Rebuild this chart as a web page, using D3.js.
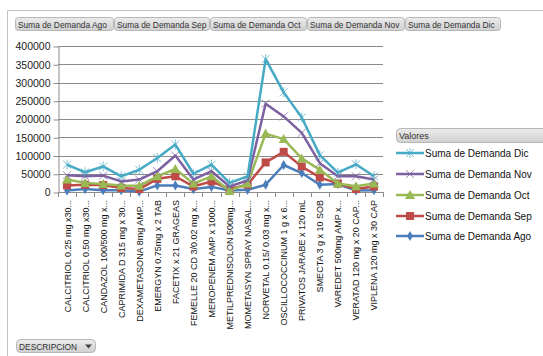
<!DOCTYPE html>
<html>
<head>
<meta charset="utf-8">
<script src="https://cdn.jsdelivr.net/npm/d3@7/dist/d3.min.js"></script>
<style>
  body { margin: 0; background: #fff; }
  text { font-family: "Liberation Sans", Arial, sans-serif; }
</style>
</head>
<body>
<script>
const width = 543;
const height = 356;

// categories (truncated as in the pivot chart)
const categories = [
  "CALCITRIOL 0.25 mg x30...",
  "CALCITRIOL 0.50 mg x30...",
  "CANDAZOL 100/500 mg x...",
  "CAPRIMIDA D 315 mg x 30...",
  "DEXAMETASONA 8mg AMP...",
  "EMERGYN 0.75mg x 2 TAB",
  "FACETIX x 21 GRAGEAS",
  "FEMELLE 20 CD 3/0.02 mg x...",
  "MEROPENEM AMP x 1000...",
  "METILPREDNISOLON 500mg...",
  "MOMETASYN SPRAY NASAL...",
  "NORVETAL 0.15/ 0.03 mg x...",
  "OSCILLOCOCCINUM 1 g x 6...",
  "PRIVATOS JARABE x 120 mL",
  "SMECTA 3 g x 10 SOB",
  "VAREDET 500mg AMP x...",
  "VERATAD 120 mg x 20 CAP...",
  "VIPLENA 120 mg x 30 CAP"
];

const demandaAgo = [4000, 8000, 5000, 5000, 1000, 18000, 18000, 8000, 14000, 4000, 6000, 20000, 74000, 52000, 20000, 22000, 4000, 5000];
const demandaSep = [18000, 20000, 19000, 11000, 8000, 36000, 43000, 15000, 29000, 8000, 20000, 81000, 110000, 70000, 40000, 23000, 8000, 15000];
const demandaOct = [34000, 25000, 22000, 18000, 17000, 43000, 63000, 23000, 43000, 3000, 23000, 160000, 145000, 92000, 61000, 23000, 16000, 23000];
const demandaNov = [46000, 43000, 45000, 29000, 34000, 57000, 100000, 34000, 57000, 15000, 32000, 242000, 207000, 162000, 79000, 43000, 43000, 34000];
const demandaDic = [75000, 54000, 70000, 43000, 61000, 93000, 130000, 50000, 75000, 25000, 43000, 364000, 273000, 204000, 101000, 53000, 76000, 43000];

const seriesNames = ["Suma de Demanda Ago", "Suma de Demanda Sep", "Suma de Demanda Oct", "Suma de Demanda Nov", "Suma de Demanda Dic"];
const yTicks = [0, 50000, 100000, 150000, 200000, 250000, 300000, 350000, 400000];

const series = [
  {name: seriesNames[0], values: demandaAgo, color: "#4a7ebb", marker: "diamond"},
  {name: seriesNames[1], values: demandaSep, color: "#be4b48", marker: "square"},
  {name: seriesNames[2], values: demandaOct, color: "#98b954", marker: "triangle"},
  {name: seriesNames[3], values: demandaNov, color: "#7d60a0", marker: "x"},
  {name: seriesNames[4], values: demandaDic, color: "#46aac5", marker: "star"}
];

const svg = d3.select('body')
  .append('svg')
  .attr('width', width)
  .attr('height', height);

// outer frame of the pivot chart
svg.append('path')
  .attr('d', 'M7.5,' + height + ' V10.5 H' + width)
  .attr('fill', 'none')
  .attr('stroke', '#c4c4c4');

// field buttons on top
const btnGrad = svg.append('defs').append('linearGradient')
  .attr('id', 'btn').attr('x1', 0).attr('y1', 0).attr('x2', 0).attr('y2', 1);
btnGrad.append('stop').attr('offset', 0).attr('stop-color', '#ececec');
btnGrad.append('stop').attr('offset', 1).attr('stop-color', '#d0d0d0');

const buttonX = [15, 114, 210, 307, 405];
const buttonW = [98, 95, 96, 97, 95];
seriesNames.forEach((n, i) => {
  svg.append('rect')
    .attr('x', buttonX[i] + 0.5).attr('y', 17.5)
    .attr('width', buttonW[i]).attr('height', 13)
    .attr('rx', 3)
    .attr('fill', 'url(#btn)')
    .attr('stroke', '#b8b8b8');
  svg.append('text')
    .attr('x', buttonX[i] + 3).attr('y', 27.5)
    .attr('font-size', 8.4)
    .attr('fill', '#333')
    .text(n);
});

// scales
const x = d3.scaleBand().domain(categories).range([58, 383]).padding(0);
const cx = d => x(d) + x.bandwidth() / 2;
const y = d3.scaleLinear().domain([0, 400000]).range([192, 46]);

// gridlines
svg.append('g')
  .selectAll('line')
  .data(yTicks.slice(1))
  .enter()
  .append('line')
  .attr('x1', 58).attr('x2', 383)
  .attr('y1', d => Math.round(y(d)) + 0.5)
  .attr('y2', d => Math.round(y(d)) + 0.5)
  .attr('stroke', '#8c8c8c');

// y axis
const yAxis = svg.append('g')
  .attr('transform', 'translate(58.5,0.5)')
  .call(d3.axisLeft(y).tickValues(yTicks).tickSize(5).tickSizeOuter(0).tickFormat(d3.format('d')));
yAxis.select('.domain').attr('stroke', '#8c8c8c');
yAxis.selectAll('.tick line').attr('stroke', '#8c8c8c');
yAxis.selectAll('.tick text')
  .attr('font-family', '"Liberation Sans", Arial, sans-serif')
  .attr('font-size', 10.5)
  .attr('fill', '#222')
  .attr('x', -8);

// x axis line with ticks at category boundaries
svg.append('line')
  .attr('x1', 58).attr('x2', 383)
  .attr('y1', 192.5).attr('y2', 192.5)
  .attr('stroke', '#8c8c8c');
svg.append('g')
  .selectAll('line')
  .data(categories.concat(['end']))
  .enter()
  .append('line')
  .attr('x1', (d, i) => Math.round(58 + i * x.bandwidth()) + 0.5)
  .attr('x2', (d, i) => Math.round(58 + i * x.bandwidth()) + 0.5)
  .attr('y1', 192).attr('y2', 197)
  .attr('stroke', '#8c8c8c');

// category labels, rotated
svg.append('g')
  .selectAll('text')
  .data(categories)
  .enter()
  .append('text')
  .attr('transform', d => 'translate(' + (cx(d) + 3.5) + ',200) rotate(-90)')
  .attr('text-anchor', 'end')
  .attr('font-size', 9)
  .attr('fill', '#111')
  .text(d => d);

// markers
function drawMarker(g, type, color, px, py) {
  if (type === 'diamond') {
    g.append('path')
      .attr('d', d3.symbol().type(d3.symbolDiamond).size(30)())
      .attr('transform', 'translate(' + px + ',' + py + ')')
      .attr('fill', color);
  } else if (type === 'square') {
    g.append('rect')
      .attr('x', px - 4).attr('y', py - 4)
      .attr('width', 8).attr('height', 8)
      .attr('fill', color);
  } else if (type === 'triangle') {
    g.append('path')
      .attr('d', 'M' + px + ',' + (py - 5) + 'L' + (px + 5) + ',' + (py + 4) + 'L' + (px - 5) + ',' + (py + 4) + 'Z')
      .attr('fill', color);
  } else if (type === 'x') {
    g.append('path')
      .attr('d', 'M' + (px - 4) + ',' + (py - 4) + 'L' + (px + 4) + ',' + (py + 4) +
                 'M' + (px + 4) + ',' + (py - 4) + 'L' + (px - 4) + ',' + (py + 4))
      .attr('stroke', color).attr('stroke-width', 1).attr('opacity', 0.7);
  } else if (type === 'star') {
    g.append('path')
      .attr('d', 'M' + (px - 4) + ',' + (py - 4) + 'L' + (px + 4) + ',' + (py + 4) +
                 'M' + (px + 4) + ',' + (py - 4) + 'L' + (px - 4) + ',' + (py + 4) +
                 'M' + px + ',' + (py - 5) + 'L' + px + ',' + (py + 5))
      .attr('stroke', color).attr('stroke-width', 1).attr('opacity', 0.7);
  }
}

const line = d3.line()
  .x((d, i) => cx(categories[i]))
  .y(d => y(d));

series.forEach(s => {
  const g = svg.append('g');
  g.append('path')
    .datum(s.values)
    .attr('d', line)
    .attr('fill', 'none')
    .attr('stroke', s.color)
    .attr('stroke-width', 2.5)
    .attr('stroke-linejoin', 'round');
  s.values.forEach((v, i) => drawMarker(g, s.marker, s.color, cx(categories[i]), y(v)));
});

// legend
const lg = svg.append('g');
lg.append('rect')
  .attr('x', 396.5).attr('y', 128.5)
  .attr('width', 160).attr('height', 14)
  .attr('rx', 4)
  .attr('fill', 'url(#btn)')
  .attr('stroke', '#b8b8b8');
lg.append('text')
  .attr('x', 399).attr('y', 139)
  .attr('font-size', 9)
  .attr('fill', '#333')
  .text('Valores');

const legendY = [153, 174, 195, 216, 236];
series.slice().reverse().forEach((s, i) => {
  const ly = legendY[i];
  lg.append('line')
    .attr('x1', 396).attr('x2', 424)
    .attr('y1', ly).attr('y2', ly)
    .attr('stroke', s.color).attr('stroke-width', 2.5);
  drawMarker(lg, s.marker, s.color, 410, ly);
  lg.append('text')
    .attr('x', 425).attr('y', ly + 3.5)
    .attr('font-size', 10)
    .attr('fill', '#111')
    .text(s.name);
});

// row field button
svg.append('rect')
  .attr('x', 16.5).attr('y', 339.5)
  .attr('width', 79).attr('height', 13)
  .attr('rx', 4)
  .attr('fill', 'url(#btn)')
  .attr('stroke', '#b8b8b8');
svg.append('text')
  .attr('x', 19).attr('y', 349.5)
  .attr('font-size', 8.4)
  .attr('fill', '#333')
  .text('DESCRIPCION');
svg.append('path')
  .attr('d', 'M85,344.5 L92,344.5 L88.5,348.5 Z')
  .attr('fill', '#444');
</script>
</body>
</html>
